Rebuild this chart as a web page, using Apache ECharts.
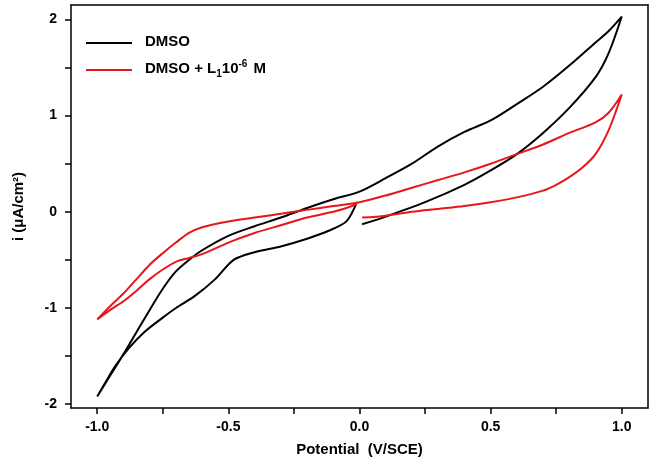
<!DOCTYPE html><html><head><meta charset="utf-8"><script src="https://cdn.jsdelivr.net/npm/echarts@6/dist/echarts.min.js"></script></head><body style="margin:0"><div id="c" style="width:656px;height:465px"></div><script>
const dmso = [[0.01,-0.13],[0.1,-0.05],[0.25,0.1],[0.4,0.28],[0.5,0.43],[0.6,0.6],[0.7,0.82],[0.8,1.08],[0.9,1.4],[0.95,1.65],[1.0,2.03],[0.95,1.88],[0.9,1.76],[0.8,1.52],[0.7,1.3],[0.6,1.12],[0.5,0.95],[0.4,0.83],[0.3,0.68],[0.2,0.5],[0.1,0.35],[0.0,0.21],[-0.1,0.13],[-0.2,0.04],[-0.3,-0.06],[-0.4,-0.15],[-0.5,-0.25],[-0.6,-0.4],[-0.65,-0.5],[-0.7,-0.62],[-0.75,-0.8],[-0.8,-1.02],[-0.85,-1.25],[-0.9,-1.48],[-0.95,-1.7],[-1.0,-1.92],[-0.97,-1.78],[-0.93,-1.6],[-0.88,-1.42],[-0.82,-1.25],[-0.75,-1.1],[-0.7,-1.0],[-0.63,-0.88],[-0.55,-0.7],[-0.48,-0.5],[-0.4,-0.42],[-0.3,-0.36],[-0.2,-0.28],[-0.12,-0.2],[-0.05,-0.1],[-0.01,0.1]];
const dmsoL = [[0.01,-0.06],[0.1,-0.04],[0.2,0.0],[0.3,0.03],[0.4,0.06],[0.5,0.1],[0.6,0.15],[0.7,0.22],[0.75,0.28],[0.8,0.36],[0.85,0.46],[0.9,0.6],[0.95,0.85],[1.0,1.22],[0.95,1.03],[0.9,0.93],[0.8,0.82],[0.7,0.7],[0.6,0.6],[0.5,0.5],[0.4,0.41],[0.3,0.33],[0.2,0.25],[0.1,0.17],[0.0,0.1],[-0.1,0.06],[-0.2,0.02],[-0.3,-0.02],[-0.4,-0.06],[-0.5,-0.1],[-0.6,-0.16],[-0.65,-0.22],[-0.7,-0.32],[-0.75,-0.43],[-0.8,-0.55],[-0.85,-0.7],[-0.9,-0.85],[-0.95,-0.98],[-1.0,-1.12],[-0.95,-1.02],[-0.9,-0.93],[-0.85,-0.82],[-0.8,-0.7],[-0.75,-0.6],[-0.7,-0.52],[-0.65,-0.48],[-0.6,-0.44],[-0.5,-0.32],[-0.4,-0.22],[-0.3,-0.14],[-0.2,-0.06],[-0.1,0.0],[-0.05,0.04],[-0.01,0.08]];
const xTicks = [-1.0,-0.5,0.0,0.5,1.0];
const xMinor = [-1.0,-0.75,-0.5,-0.25,0,0.25,0.5,0.75,1.0];
const yTicks = [-2,-1,0,1,2];
const yMinor = [-2,-1.5,-1,-0.5,0,0.5,1,1.5,2];
const F = 'Liberation Sans';
const ax = {axisLine:{onZero:false,lineStyle:{color:'#000',width:1.5}},splitLine:{show:false}};
const ch = echarts.init(document.getElementById('c'));
ch.setOption({
 animation:false,
 grid:{left:71,right:8,top:5,bottom:57},
 xAxis:[{type:'value',min:-1.1,max:1.1,position:'bottom',...ax,
   axisTick:{customValues:xMinor,length:6,lineStyle:{width:1.5}},
   axisLabel:{customValues:xTicks,formatter:v=>v.toFixed(1),color:'#000',fontWeight:'bold',fontSize:14,fontFamily:F,margin:12},
   name:'Potential  (V/SCE)',nameLocation:'middle',nameGap:34,nameTextStyle:{color:'#000',fontWeight:'bold',fontSize:15,fontFamily:F}},
  {type:'value',min:-1.1,max:1.1,position:'top',...ax,axisTick:{show:false},axisLabel:{show:false}}],
 yAxis:[{type:'value',min:-2.04,max:2.15,position:'left',...ax,
   axisTick:{customValues:yMinor,length:6,lineStyle:{width:1.5}},
   axisLabel:{customValues:yTicks,formatter:v=>String(v),color:'#000',fontWeight:'bold',fontSize:14,fontFamily:F,margin:14},
   name:'i (μA/cm²)',nameLocation:'middle',nameGap:45,nameTextStyle:{color:'#000',fontWeight:'bold',fontSize:15,fontFamily:F}},
  {type:'value',min:-2.04,max:2.15,position:'right',...ax,axisTick:{show:false},axisLabel:{show:false}}],
 series:[
  {type:'line',data:dmso,showSymbol:false,smooth:0.3,lineStyle:{color:'#000',width:2}},
  {type:'line',data:dmsoL,showSymbol:false,smooth:0.3,lineStyle:{color:'#e8161b',width:2}}],
 graphic:[
  {type:'line',shape:{x1:86,y1:43,x2:132,y2:43},style:{stroke:'#000',lineWidth:2}},
  {type:'text',left:145,top:34,style:{text:'DMSO',font:'bold 15px '+F,fill:'#000'}},
  {type:'line',shape:{x1:86,y1:70,x2:132,y2:70},style:{stroke:'#e8161b',lineWidth:2}},
  {type:'text',left:145,top:59,style:{text:'{a|DMSO + L}{s|1}{a|10}{p|-6}{a| M}',fill:'#000',
    rich:{a:{font:'bold 15px '+F,fill:'#000'},s:{font:'bold 10px '+F,fill:'#000',padding:[10,0,0,0]},p:{font:'bold 10px '+F,fill:'#000',padding:[0,2,10,0]}}}}
 ]
});
</script></body></html>
